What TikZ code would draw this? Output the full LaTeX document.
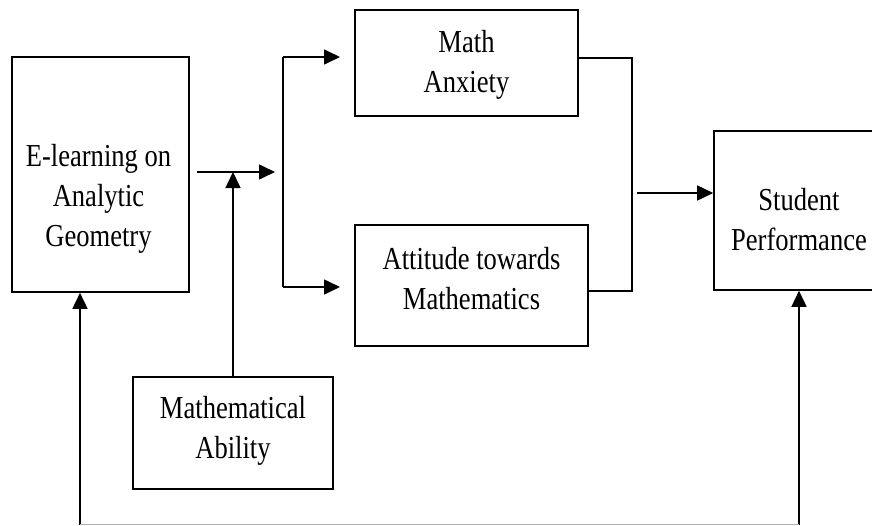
\documentclass[tikz,border=0pt]{standalone}
\usepackage{fontspec}
\setmainfont{Liberation Serif}[FakeStretch=0.83]
\usetikzlibrary{calc, positioning, arrows.meta}

\tikzset{
  box/.style={draw, line width=1.6pt, inner sep=0pt},
  lbl/.style={align=center, inner sep=0pt, font=\fontsize{32}{40}\selectfont},
  link/.style={line width=1.6pt},
  arr/.style={link, -{Triangle[length=16pt, width=15pt]}}
}

\begin{document}
\begin{tikzpicture}[x=1pt, y=-1pt]
  \useasboundingbox (0,0) rectangle (872,525);
  \clip (0,0) rectangle (872,525);

  % boxes
  \node[box, minimum width=177pt, minimum height=235pt] (elearn) at (100.5,174.5) {};
  \node[box, minimum width=223pt, minimum height=106pt] (anx) at (466.5,63) {};
  \node[box, minimum width=233pt, minimum height=121pt] (att) at (471.5,285.5) {};
  \node[box, minimum width=170pt, minimum height=159pt] (perf) at (799,210.5) {};
  \node[box, minimum width=200pt, minimum height=112pt] (abil) at (233,433) {};

  % labels
  \node[lbl] (elearnT) at (98.5,199) {E-learning on\\Analytic\\Geometry};
  \node[lbl] (anxT) at (466.5,65) {Math\\Anxiety};
  \node[lbl] (attT) at (471.5,278.5) {Attitude towards\\Mathematics};
  \node[lbl] (perfT) at (799,220) {Student\\Performance};
  \node[lbl] (abilT) at (233,431) {Mathematical\\Ability};

  % junction points
  \coordinate (out) at ($(elearn.east)+(7,-2.5)$);
  \coordinate (mid) at (275,172);
  \coordinate (split) at (283,172);
  \coordinate (hit) at (abil.north |- mid);
  \coordinate (join) at (632,193);
  \coordinate (low) at (80,524.5);
  \coordinate (lowR) at (perf.south |- low);

  \draw[arr] (out) -- (mid);
  \draw[arr] (abil.north) -- (hit);
  \draw[link] (split |- 0,57) -- (split |- 0,287);
  \draw[arr] (split |- 0,57) -- (340,57);
  \draw[arr] (split |- 0,287) -- (340,287);

  \draw[link] (anx.east |- 0,58) -| (join |- 0,291) -- (att.east |- 0,291);
  \draw[arr] ($(join)+(5,0)$) -- (perf.west |- join);

  \draw[arr] (low) -- (low |- elearn.south);
  \draw[arr] (lowR) -- (perf.south);
  \draw[link, black!30] (low) -- (lowR);
\end{tikzpicture}
\end{document}
